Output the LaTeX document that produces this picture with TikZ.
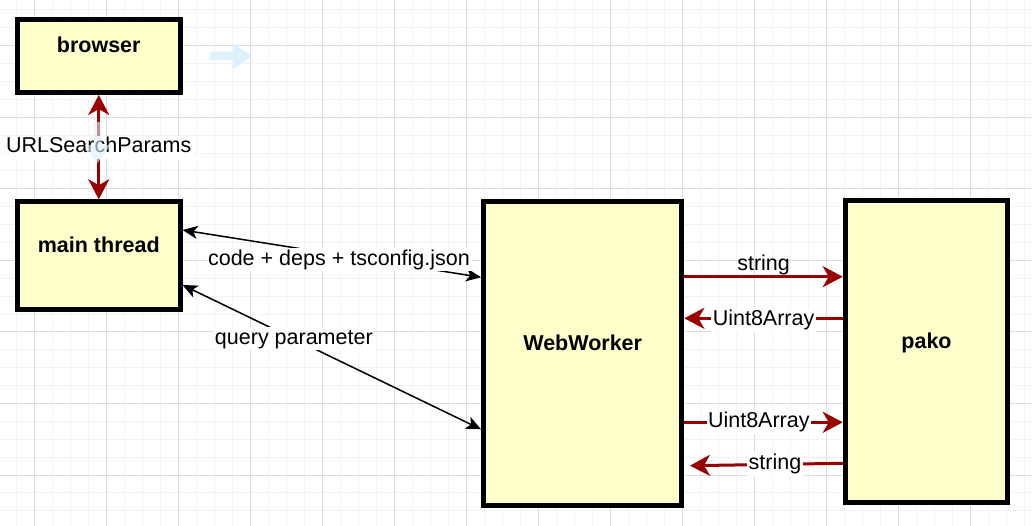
\documentclass[tikz,border=0pt]{standalone}
\usepackage{fontspec}
\setmainfont{Liberation Sans}
\usetikzlibrary{arrows.meta}
\definecolor{boxYellow}{HTML}{FFFFCC}
\definecolor{darkRed}{HTML}{990000}
\definecolor{gridMajor}{HTML}{DDDDDD}
\definecolor{gridMinor}{HTML}{F3F3F3}
\definecolor{hintBlue}{HTML}{DCF1FB}
\newcommand{\diagFont}{\fontsize{21.5pt}{25pt}\selectfont}

\begin{document}
\begin{tikzpicture}[x=1pt,y=-1pt]
 \newcommand{\boxWidth}{162.5}
	\tikzset{box/.style = {rectangle,draw=black,line width=5pt,fill=boxYellow,font=\diagFont\bfseries,text height=15.5pt,text depth=21.5pt,inner sep=0pt}}
	\tikzset{lbl/.style = {fill=white,font=\diagFont,text height=15.5pt,text depth=4.5pt,inner sep=1.5pt}}
	\tikzstyle{edge} = [<->,>={Stealth[length=15pt,width=13pt,inset=4pt]},line width=1.5pt]
	\tikzstyle{redEdge} = [->,>={Stealth[length=20pt,width=21pt,inset=6pt]},line width=3pt,draw=darkRed]
	\tikzstyle{hint} = [fill=hintBlue,draw=none]
	%page and grid
	\useasboundingbox (0,0) rectangle (1032,526);
	\fill[white] (0,0) rectangle (1032,526);
	\foreach \x in {16.5,34.5,...,1032} \draw[gridMinor,line width=1pt] (\x,0) -- (\x,526);
	\foreach \y in {9.92,27.81,...,526} \draw[gridMinor,line width=1pt] (0,\y) -- (1032,\y);
	\foreach \x in {34.5,106.5,...,1032} \draw[gridMajor,line width=1pt] (\x,0) -- (\x,526);
	\foreach \y in {45.7,117.25,...,526} \draw[gridMajor,line width=1pt] (0,\y) -- (1032,\y);
	%boxes
	\node[box,minimum width=\boxWidth,minimum height=73] (browser) at (98.75,56) {browser};
	\node[box,minimum width=\boxWidth,minimum height=107.5] (main) at (98.75,255.5) {main thread};
	\node[box,minimum width=198.3,minimum height=304] (worker) at (582.7,353.8) {WebWorker};
	\node[box,minimum width=\boxWidth,minimum height=302] (pako) at (926.5,351.5) {pako};
	%browser <-> main thread
	\draw[redEdge,<->] (browser) to node[lbl,midway] (urlLbl) {URLSearchParams} (main);
	%main thread <-> WebWorker
	\draw[edge] ([yshift=25.5]main.east) to node[lbl,pos=0.524,yshift=-5] (codeLbl) {code + deps + tsconfig.json} ([yshift=76.5]worker.west);
	\draw[edge] ([yshift=-29.5]main.east) to node[lbl,pos=0.373] (queryLbl) {query parameter} ([yshift=-75.5]worker.west);
	%WebWorker <-> pako
	\coordinate (stringEnd) at (690,465.7);
	\draw[redEdge] ([yshift=77.1]worker.east) to node[font=\diagFont,text height=15.5pt,text depth=4.5pt,midway,yshift=12] (strLblA) {string} ([yshift=74.8]pako.west);
	\draw[redEdge] ([yshift=33.2]pako.west) to node[lbl,midway,yshift=-2] (arrLblA) {Uint8Array} ([yshift=35.5]worker.east);
	\draw[redEdge] ([yshift=-68.5]worker.east) to node[lbl,pos=0.47] (arrLblB) {Uint8Array} ([yshift=-70.8]pako.west);
	\draw[redEdge] ([yshift=-111.8]pako.west) to node[lbl,pos=0.444] (strLblB) {string} (stringEnd);
	%hover hints
	\fill[hint] (210,51.7) -- (233.3,51.7) -- (233.3,43.3) -- (251.7,56) -- (233.3,69.3) -- (233.3,60) -- (210,60) -- cycle;
	\fill[hint,fill opacity=0.6] (93.5,122) -- (101.5,122) -- (101.5,145) -- (110.5,145) -- (97.5,163) -- (84.5,145) -- (93.5,145) -- cycle;
\end{tikzpicture}
\end{document}
